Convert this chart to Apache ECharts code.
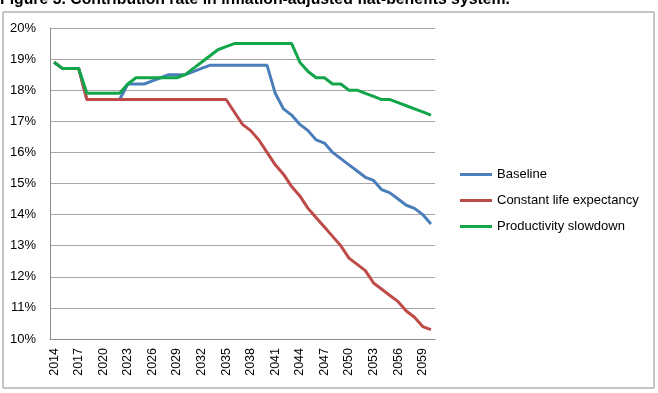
<!DOCTYPE html>
<html>
<head>
<meta charset="utf-8">
<script src="https://cdn.jsdelivr.net/npm/echarts@6/dist/echarts.min.js"></script>
<style>
  html, body { margin: 0; padding: 0; background: #fff; }
  #chart { width: 658px; height: 393px; }
</style>
</head>
<body>
<div id="chart"></div>
<script>
// years 2014..2060
const years = [];
for (let y = 2014; y <= 2060; y++) years.push(String(y));

const baseline = [
  18.9, 18.7, 18.7, 18.7, 17.7, 17.7, 17.7, 17.7, 17.7, 18.2,
  18.2, 18.2, 18.3, 18.4, 18.5, 18.5, 18.5, 18.6, 18.7, 18.8,
  18.8, 18.8, 18.8, 18.8, 18.8, 18.8, 18.8, 17.9, 17.4, 17.2,
  16.9, 16.7, 16.4, 16.3, 16.0, 15.8, 15.6, 15.4, 15.2, 15.1,
  14.8, 14.7, 14.5, 14.3, 14.2, 14.0, 13.7
];
const constantLife = [
  18.9, 18.7, 18.7, 18.7, 17.7, 17.7, 17.7, 17.7, 17.7, 17.7,
  17.7, 17.7, 17.7, 17.7, 17.7, 17.7, 17.7, 17.7, 17.7, 17.7,
  17.7, 17.7, 17.3, 16.9, 16.7, 16.4, 16.0, 15.6, 15.3, 14.9,
  14.6, 14.2, 13.9, 13.6, 13.3, 13.0, 12.6, 12.4, 12.2, 11.8,
  11.6, 11.4, 11.2, 10.9, 10.7, 10.4, 10.3
];
const productivity = [
  18.9, 18.7, 18.7, 18.7, 17.9, 17.9, 17.9, 17.9, 17.9, 18.2,
  18.4, 18.4, 18.4, 18.4, 18.4, 18.4, 18.5, 18.7, 18.9, 19.1,
  19.3, 19.4, 19.5, 19.5, 19.5, 19.5, 19.5, 19.5, 19.5, 19.5,
  18.9, 18.6, 18.4, 18.4, 18.2, 18.2, 18.0, 18.0, 17.9, 17.8,
  17.7, 17.7, 17.6, 17.5, 17.4, 17.3, 17.2
];

const font = "'Liberation Sans', Arial, sans-serif";
const myChart = echarts.init(document.getElementById("chart"));

const lineSeries = (name, data, color) => ({
  name: name,
  type: "line",
  data: data,
  symbol: "none",
  lineStyle: { color: color, width: 3 },
  itemStyle: { color: color },
  animation: false,
});

myChart.setOption({
  animation: false,
  textStyle: { fontFamily: font },
  graphic: [
    {
      type: "rect",
      shape: { x: 3, y: 12, width: 651, height: 376 },
      style: { fill: null, stroke: "#8c8c8c", lineWidth: 1 },
    },
    {
      type: "text",
      x: 0,
      y: 8,
      style: {
        text: "Figure 3. Contribution rate in inflation-adjusted flat-benefits system.",
        font: "bold 15.8px " + font,
        fill: "#000",
        verticalAlign: "bottom",
      },
    },
  ],
  grid: { left: 50, right: 223, top: 28, bottom: 54 },
  legend: {
    orient: "vertical",
    left: 455,
    top: 163,
    itemWidth: 32,
    itemHeight: 3,
    itemGap: 13,
    icon: "rect",
    textStyle: { fontSize: 13, color: "#000", fontFamily: font },
    data: ["Baseline", "Constant life expectancy", "Productivity slowdown"],
  },
  xAxis: {
    type: "category",
    data: years,
    boundaryGap: true,
    axisLine: { lineStyle: { color: "#8c8c8c" } },
    axisTick: { interval: 0, length: 4, lineStyle: { color: "#8c8c8c" } },
    axisLabel: {
      interval: 2,
      rotate: 90,
      fontSize: 12.5,
      color: "#000",
      margin: 9,
    },
  },
  yAxis: {
    type: "value",
    min: 10,
    max: 20,
    interval: 1,
    axisLine: { show: true, lineStyle: { color: "#8c8c8c" } },
    axisTick: { show: false },
    splitLine: { lineStyle: { color: "#a6a6a6" } },
    axisLabel: { formatter: "{value}%", fontSize: 13, color: "#000", margin: 14 },
  },
  series: [
    lineSeries("Baseline", baseline, "#4a7ebb"),
    lineSeries("Constant life expectancy", constantLife, "#be4b48"),
    lineSeries("Productivity slowdown", productivity, "#12a64a"),
  ],
});
</script>
</body>
</html>
